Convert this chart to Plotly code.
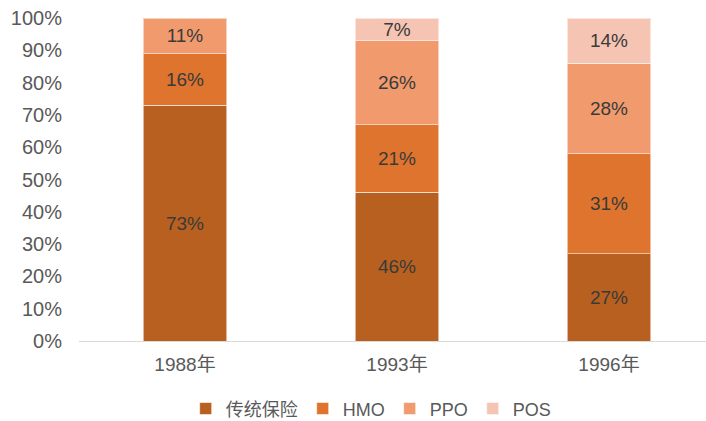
import plotly.graph_objects as go

years = ["1988年", "1993年", "1996年"]
traditional = [73, 46, 27]
hmo = [16, 21, 31]
ppo = [11, 26, 28]
pos = [None, 7, 14]

series = [
    ("传统保险", traditional, "#B8601F"),
    ("HMO", hmo, "#DE742E"),
    ("PPO", ppo, "#F09A6E"),
    ("POS", pos, "#F6C4B2"),
]

font_family = "Liberation Sans, Arial, Noto Sans CJK SC, sans-serif"

fig = go.Figure()
for name, vals, color in series:
    fig.add_trace(go.Bar(
        name=name,
        x=years,
        y=[v / 100 if v is not None else None for v in vals],
        text=[f"{v}%" if v is not None else "" for v in vals],
        textposition="inside",
        insidetextanchor="middle",
        textangle=0,
        textfont=dict(color="#3A3A3A", size=19, family=font_family),
        marker=dict(color=color, line=dict(color="rgba(255,255,255,0.55)", width=1)),
        width=0.396,
        hoverinfo="skip",
    ))

fig.update_layout(
    barmode="stack",
    width=706,
    height=421,
    margin=dict(l=79, r=0, t=18, b=80, autoexpand=False),
    paper_bgcolor="white",
    plot_bgcolor="white",
    font=dict(family=font_family, color="#595959", size=19),
    uniformtext=dict(minsize=19, mode="show"),
    showlegend=True,
    legend=dict(
        orientation="h",
        traceorder="normal",
        x=0.466,
        xanchor="center",
        y=-0.21,
        yanchor="middle",
        font=dict(size=18, color="#595959", family=font_family),
        itemwidth=30,
        tracegroupgap=0,
    ),
    xaxis=dict(
        range=[-0.5, 2.4575],
        showline=True,
        linecolor="#D9D9D9",
        linewidth=1,
        ticks="",
        showgrid=False,
        ticklabelstandoff=6,
        tickfont=dict(size=19, color="#595959"),
    ),
    yaxis=dict(
        range=[0, 1],
        tickvals=[i / 10 for i in range(11)],
        tickformat=".0%",
        showgrid=False,
        zeroline=False,
        showline=False,
        ticks="",
        ticklabelstandoff=16,
        tickfont=dict(size=20, color="#595959"),
    ),
)

fig.write_html("out.html")
